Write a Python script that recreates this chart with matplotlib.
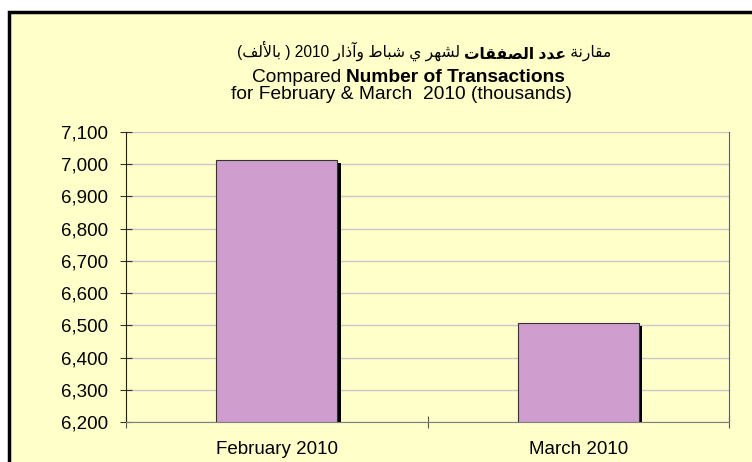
import matplotlib.pyplot as plt
from matplotlib.patches import Rectangle
from matplotlib.ticker import FuncFormatter
import matplotlib.patheffects as pe

months = ['February 2010', 'March 2010']
transactions = [7012, 6507]
y_ticks = [6200, 6300, 6400, 6500, 6600, 6700, 6800, 6900, 7000, 7100]

# arabic title, already shaped (presentation forms) and in visual order
ar_left = '(\ufed2\ufedf\ufef7\ufe8e\ufe91 ) 2010 \ufead\ufe8d\ufeab\ufe81\ufeed \ufec1\ufe8e\ufe92\ufeb7 \ufef1 \ufeae\ufeec\ufeb8\ufedf '
ar_bold = '\ufe95\ufe8e\ufed8\ufed4\ufebc\ufedf\ufe8d \ufea9\ufeaa\ufecb'
ar_right = ' \ufe94\ufee7\ufead\ufe8e\ufed8\ufee3'

fam = ['Liberation Sans', 'DejaVu Sans']
plt.rcParams['font.family'] = fam

yellow = '#FFFFC9'
fig = plt.figure(figsize=(7.52, 4.62), dpi=100)
fig.patch.set_facecolor('white')
fig.patches.append(Rectangle((8.5 / 752, -0.1), 1.2, 1 - 11.5 / 462 + 0.1,
                             transform=fig.transFigure, facecolor=yellow,
                             edgecolor='black', linewidth=2.5, zorder=-5))

ax = fig.add_axes([126 / 752, 1 - 422 / 462, (729 - 126) / 752, (422 - 132) / 462])
ax.set_facecolor(yellow)

x = [0.5, 1.5]
bars = ax.bar(x, [v - 6200 for v in transactions], bottom=6200, width=0.4,
              color='#CF9ECF', edgecolor='#333333', linewidth=0.8, zorder=3)
for b in bars:
    b.set_path_effects([pe.SimplePatchShadow(offset=(2.5, -2), shadow_rgbFace='black', alpha=1),
                        pe.Normal()])

ax.set_xlim(0, 2)
ax.set_ylim(6200, 7100)
ax.set_yticks(y_ticks)
ax.yaxis.set_major_formatter(FuncFormatter(lambda v, p: f'{int(v):,}'))
ax.set_xticks([0, 1, 2])
ax.set_xticklabels([])
ax.set_xticks(x, minor=True)
ax.set_xticklabels(months, minor=True)
ax.tick_params(axis='x', which='minor', length=0, labelsize=13.5, pad=14)
ax.tick_params(axis='x', which='major', direction='inout', length=8, color='#555555')
ax.tick_params(axis='y', direction='inout', length=8, pad=9, labelsize=13.5, color='#333333')
ax.grid(axis='y', color='#C8C8C8', linewidth=1, zorder=0)
ax.set_axisbelow(True)
ax.spines['top'].set_visible(False)
ax.spines['left'].set_color('#222222')
ax.spines['bottom'].set_color('#808080')
ax.spines['right'].set_color('#606060')

# title lines
t1 = fig.text(237 / 752, 1 - 57 / 462, ar_left, fontsize=11.2, ha='left', va='baseline')
t2 = ax.annotate(ar_bold, xy=(1, 0), xycoords=t1, fontsize=11.2, fontweight='bold',
                 ha='left', va='bottom', annotation_clip=False)
ax.annotate(ar_right, xy=(1, 0), xycoords=t2, fontsize=11.2,
            ha='left', va='bottom', annotation_clip=False)

s1 = fig.text(252 / 752, 1 - 82 / 462, 'Compared ', fontsize=13.8, ha='left', va='baseline')
ax.annotate('Number of Transactions', xy=(1, 0), xycoords=s1, fontsize=13.8,
            fontweight='bold', ha='left', va='bottom', annotation_clip=False)
fig.text(402 / 752, 1 - 99 / 462, 'for February & March  2010 (thousands)',
         fontsize=13.8, ha='center', va='baseline')

fig.savefig('out.png', dpi=100, facecolor='white')
